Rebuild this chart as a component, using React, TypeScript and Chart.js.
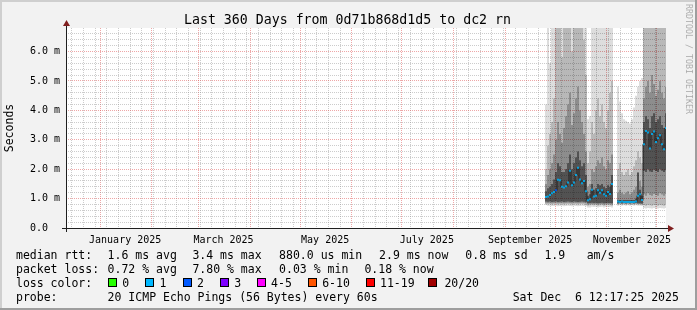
import React, { useEffect, useRef } from "react";
import { Chart, registerables } from "chart.js";
Chart.register(...registerables);

const MONO = '"DejaVu Sans Mono", monospace';

const TITLE = "Last 360 Days from 0d71b868d1d5 to dc2 rn";
const WATERMARK = "RRDTOOL / TOBI OETIKER";
const Y_TITLE = "Seconds";

// x axis: days since graph start (Wed 11 Dec 2024 12:17:25) to end (Sat 6 Dec 2025)
const X_MIN = 0;
const X_MAX = 360;
const Y_MIN = 0;
const Y_MAX = 6.8;

// first day of each month (major grid), days since start
const MONTH_STARTS = [20.49, 51.49, 79.49, 110.49, 140.49, 171.49, 201.49, 232.49, 263.49, 293.49, 324.49, 354.49];
// first Sunday (minor weekly grid)
const FIRST_WEEK = 3.49;
const MONTH_LABELS = ["January 2025", "March 2025", "May 2025", "July 2025", "September 2025", "November 2025"];
const MONTH_LABEL_POS = [35.49, 94.49, 155.49, 216.49, 278.49, 339.49];
const Y_LABELS = ["0.0  ", "1.0 m", "2.0 m", "3.0 m", "4.0 m", "5.0 m", "6.0 m"];

// sample columns (days since start)
const DAYS = [
  288.0, 289.2, 290.4, 291.6, 292.8, 294.0, 295.2, 296.4, 297.6, 298.8, 300.0, 301.2, 302.4, 303.6, 304.8, 306.0,
  307.2, 308.4, 309.6, 310.8, 312.0, 313.2, 314.4, 315.6, 316.8, 318.0, 319.2, 320.4, 321.6, 322.8, 324.0, 325.2,
  326.4, 327.6, 328.8, 330.0, 331.2, 332.4, 333.6, 334.8, 336.0, 337.2, 338.4, 339.6, 340.8, 342.0, 343.2, 344.4,
  345.6, 346.8, 348.0, 349.2, 350.4, 351.6, 352.8, 354.0, 355.2, 356.4, 357.6, 358.8, 360.0,
];

// median rtt (ms)
const MEDIAN = [
  1.05, 1.07, 1.12, 1.18, 1.22, 1.28, 1.64, 1.62, 1.40, 1.38, 1.42, 1.55, 1.95, 1.45, 1.55, 1.80, 2.05, 1.65, 1.52, 1.60, 1.25,
  0.94, 0.98, 1.30, 1.07, 1.10, 1.28, 1.20, 1.28, 1.15, 1.10, 1.22, 1.16, 1.50,
  null, null,
  0.90, 0.88, 0.90, 0.88, 0.88, 0.88, 0.88, 0.88, 0.88, 0.90, 1.10, 1.15, 0.95,
  2.85, 3.30, 3.25, 2.70, 3.20, 3.28, 2.92, 3.05, 3.15, 2.85, 2.68, 3.40,
];

// lost pings per column
const LOSS = [
  1, 1, 1, 1, 1, 2, 1, 1, 1, 1, 1, 1, 1, 1, 1, 1, 1, 1, 1, 1, 1,
  1, 1, 1, 1, 1, 1, 1, 1, 1, 1, 1, 1, 1,
  null, null,
  1, 1, 1, 1, 1, 1, 1, 1, 1, 1, 1, 1, 1,
  1, 1, 1, 1, 1, 1, 1, 1, 1, 1, 1, 1,
];

// smoke: outer band (min .. max of pings)
const SMOKE_LO = [
  0.78, 0.76, 0.76, 0.75, 0.75, 0.76, 0.74, 0.75, 0.76, 0.74, 0.75, 0.76, 0.75, 0.74, 0.76, 0.75, 0.74, 0.75, 0.76, 0.75, 0.74,
  0.70, 0.70, 0.72, 0.71, 0.72, 0.70, 0.71, 0.72, 0.70, 0.71, 0.72, 0.71, 0.70,
  null, null,
  0.76, 0.77, 0.76, 0.77, 0.76, 0.77, 0.76, 0.77, 0.76, 0.77, 0.76, 0.76, 0.75,
  0.68, 0.66, 0.68, 0.67, 0.66, 0.68, 0.67, 0.66, 0.68, 0.67, 0.66, 0.68,
];
const SMOKE_HI = [
  4.2, 6.8, 5.6, 6.8, 6.8, 6.8, 6.8, 6.8, 6.8, 6.8, 6.8, 6.8, 6.8, 6.8, 6.8, 6.8, 6.8, 6.8, 6.8, 6.8, 6.8,
  3.7, 3.8, 6.8, 6.8, 6.8, 6.8, 6.8, 6.8, 6.8, 6.8, 6.8, 6.8, 6.8,
  null, null,
  4.8, 4.3, 3.9, 3.7, 3.65, 3.6, 3.55, 3.7, 4.1, 4.5, 4.8, 5.0, 5.1,
  6.8, 6.8, 6.8, 6.8, 6.8, 6.8, 6.8, 6.8, 6.8, 6.8, 6.8, 6.8,
];
const BAND1_LO = [
  0.82, 0.81, 0.82, 0.80, 0.81, 0.82, 0.80, 0.81, 0.82, 0.80, 0.81, 0.82, 0.81, 0.80, 0.82, 0.81, 0.80, 0.81, 0.82, 0.81, 0.80,
  0.76, 0.77, 0.78, 0.77, 0.78, 0.76, 0.77, 0.78, 0.76, 0.77, 0.78, 0.77, 0.76,
  null, null,
  0.80, 0.81, 0.80, 0.81, 0.80, 0.81, 0.80, 0.81, 0.80, 0.81, 0.80, 0.80, 0.79,
  0.78, 0.76, 0.78, 0.77, 0.76, 0.78, 0.77, 0.76, 0.78, 0.77, 0.76, 0.78,
];
const BAND1_HI = [
  2.0, 2.8, 3.2, 3.6, 4.4, 6.8, 6.8, 6.8, 5.8, 6.8, 6.8, 6.8, 6.8, 6.0, 6.8, 6.8, 6.8, 6.8, 6.8, 6.4, 5.2,
  2.2, 2.6, 3.6, 3.2, 4.0, 4.4, 3.8, 4.2, 3.6, 3.4, 4.0, 4.6, 5.0,
  null, null,
  2.0, 2.2, 1.9, 1.8, 1.9, 2.0, 1.8, 1.9, 2.1, 2.3, 2.6, 2.4, 2.2,
  6.8, 6.8, 6.8, 6.8, 6.8, 6.8, 6.8, 6.8, 6.8, 6.8, 6.8, 6.8,
];
const BAND2_LO = [
  0.86, 0.85, 0.86, 0.84, 0.85, 0.86, 0.84, 0.85, 0.86, 0.84, 0.85, 0.86, 0.85, 0.84, 0.86, 0.85, 0.84, 0.85, 0.86, 0.85, 0.84,
  0.80, 0.81, 0.82, 0.81, 0.82, 0.80, 0.81, 0.82, 0.80, 0.81, 0.82, 0.81, 0.80,
  null, null,
  0.82, 0.83, 0.82, 0.83, 0.82, 0.83, 0.82, 0.83, 0.82, 0.83, 0.82, 0.82, 0.81,
  1.15, 1.10, 1.18, 1.12, 1.10, 1.16, 1.12, 1.10, 1.18, 1.14, 1.10, 1.16,
];
const BAND2_HI = [
  1.5, 1.8, 2.0, 2.2, 2.5, 3.0, 3.6, 3.2, 2.9, 3.4, 3.8, 4.2, 4.6, 3.5, 3.9, 4.4, 4.8, 4.0, 3.6, 3.2, 2.6,
  1.4, 1.5, 2.0, 1.9, 2.1, 2.3, 2.2, 2.4, 2.1, 2.0, 2.3, 2.2, 2.5,
  null, null,
  1.2, 1.3, 1.2, 1.15, 1.2, 1.25, 1.15, 1.2, 1.3, 1.4, 1.9, 1.6, 1.4,
  4.4, 4.8, 5.0, 4.6, 5.2, 4.9, 4.5, 4.7, 5.0, 4.6, 4.4, 4.8,
];
const BAND3_LO = [
  0.90, 0.89, 0.90, 0.88, 0.89, 0.90, 0.88, 0.89, 0.90, 0.88, 0.89, 0.90, 0.89, 0.88, 0.90, 0.89, 0.88, 0.89, 0.90, 0.89, 0.88,
  0.84, 0.85, 0.86, 0.85, 0.86, 0.84, 0.85, 0.86, 0.84, 0.85, 0.86, 0.85, 0.84,
  null, null,
  0.84, 0.85, 0.84, 0.85, 0.84, 0.85, 0.84, 0.85, 0.84, 0.85, 0.84, 0.84, 0.83,
  1.95, 1.90, 2.00, 1.92, 1.90, 1.98, 1.94, 1.90, 2.00, 1.95, 1.90, 1.96,
];
const BAND3_HI = [
  1.25, 1.35, 1.4, 1.5, 1.65, 1.9, 2.2, 2.1, 1.9, 1.9, 2.0, 2.2, 2.5, 2.0, 2.2, 2.4, 2.6, 2.3, 2.1, 2.2, 1.8,
  1.1, 1.15, 1.5, 1.3, 1.35, 1.5, 1.45, 1.5, 1.4, 1.35, 1.45, 1.4, 1.8,
  null, null,
  0.95, 0.95, 0.95, 0.95, 0.95, 0.95, 0.95, 0.95, 0.95, 1.0, 1.88, 1.3, 1.1,
  3.6, 3.8, 3.7, 3.4, 3.8, 3.9, 3.6, 3.7, 3.8, 3.5, 3.4, 3.9,
];

const LOSS_LABELS = ["0", "1", "2", "3", "4-5", "6-10", "11-19", "20/20"];
const LOSS_COLORS = ["#26ff00", "#00b8ff", "#0059ff", "#7e00ff", "#ff00ff", "#ff5500", "#ff0000", "#a10000"];
const LOSS_LIMITS = [0, 1, 2, 3, 5, 10, 19, 20];

const STATS_RTT = [
  ["1.6 ms avg", 107.6],
  ["3.4 ms max", 192.4],
  ["880.0 us min", 279.1],
  ["2.9 ms now", 379.1],
  ["0.8 ms sd", 465.3],
  ["1.9", 544.4],
  ["am/s", 586.7],
];
const STATS_LOSS = [
  ["0.72 % avg", 107.6],
  ["7.80 % max", 192.4],
  ["0.03 % min", 279.1],
  ["0.18 % now", 364.4],
];
const PROBE = "20 ICMP Echo Pings (56 Bytes) every 60s";
const STAMP = "Sat Dec  6 12:17:25 2025";

const GRID_MINOR = "rgba(143,143,143,0.45)";
const GRID_MAJOR = "rgba(222,79,79,0.5)";

function lossColor(l: number | null): string {
  if (l == null) return "rgba(0,0,0,0)";
  for (let k = 0; k < LOSS_LIMITS.length; k++) if (l <= LOSS_LIMITS[k]) return LOSS_COLORS[k];
  return LOSS_COLORS[LOSS_COLORS.length - 1];
}

function band(lo: (number | null)[], hi: (number | null)[]) {
  const out: { x: number; y: [number, number] }[] = [];
  DAYS.forEach((d, i) => {
    const a = lo[i];
    const b = hi[i];
    if (a != null && b != null) out.push({ x: d, y: [a, b] });
  });
  return out;
}

const isNear = (a: number, list: number[]) => list.some((v) => Math.abs(v - a) < 1e-6);

const framePlugin = {
  id: "rrdFrame",
  beforeDraw(chart: any) {
    const { ctx, width, height, chartArea: a } = chart;
    ctx.save();
    ctx.fillStyle = "#f2f2f2";
    ctx.fillRect(0, 0, width, height);
    ctx.fillStyle = "#cfcfcf";
    ctx.fillRect(0, 0, width, 2);
    ctx.fillRect(0, 0, 2, height);
    ctx.fillStyle = "#9e9e9e";
    ctx.fillRect(0, height - 2, width, 2);
    ctx.fillRect(width - 2, 0, 2, height);
    ctx.fillStyle = "#ffffff";
    ctx.fillRect(a.left, a.top, a.right - a.left, a.bottom - a.top);
    ctx.restore();
  },
  afterDatasetsDraw(chart: any) {
    const { ctx } = chart;
    const xs = chart.scales.x;
    const ys = chart.scales.y;
    const x0 = Math.round(xs.getPixelForValue(X_MIN));
    const x1 = Math.round(xs.getPixelForValue(X_MAX));
    const y0 = Math.round(ys.getPixelForValue(Y_MIN));
    const y1 = Math.round(ys.getPixelForValue(Y_MAX));
    ctx.save();
    ctx.strokeStyle = "#1f1f1f";
    ctx.lineWidth = 1;
    ctx.beginPath();
    ctx.moveTo(x0 - 4, y0 + 0.5);
    ctx.lineTo(x1 + 4, y0 + 0.5);
    ctx.moveTo(x0 + 0.5, y0 + 4);
    ctx.lineTo(x0 + 0.5, y1 - 4);
    ctx.stroke();
    ctx.fillStyle = "#801f1f";
    ctx.beginPath();
    ctx.moveTo(x1 + 2, y0 - 3);
    ctx.lineTo(x1 + 2, y0 + 4);
    ctx.lineTo(x1 + 8, y0 + 0.5);
    ctx.closePath();
    ctx.fill();
    ctx.beginPath();
    ctx.moveTo(x0 - 3, y1 - 2);
    ctx.lineTo(x0 + 4, y1 - 2);
    ctx.lineTo(x0 + 0.5, y1 - 8);
    ctx.closePath();
    ctx.fill();
    ctx.restore();
  },
};

function ChartCanvas() {
  const ref = useRef<HTMLCanvasElement | null>(null);
  useEffect(() => {
    if (!ref.current) return;
    const weekLines: number[] = [];
    for (let d = FIRST_WEEK; d < X_MAX; d += 7) weekLines.push(Math.round(d * 100) / 100);
    const xGrid = Array.from(new Set([...weekLines, ...MONTH_STARTS])).sort((a, b) => a - b);
    const yGrid: number[] = [];
    for (let k = 0; k < 34; k++) yGrid.push(Math.round(k * 2) / 10);
    const yMajor = Y_LABELS.map((_, i) => i);

    const half = (Y_MAX - Y_MIN) / 200;
    const marks: { x: number; y: [number, number] }[] = [];
    const markColors: string[] = [];
    DAYS.forEach((d, i) => {
      const m = MEDIAN[i];
      if (m != null) {
        marks.push({ x: d, y: [m - half, m + half] });
        markColors.push(lossColor(LOSS[i]));
      }
    });
    const line = DAYS.map((d, i) => ({ x: d, y: MEDIAN[i] }));

    const barCommon = {
      type: "bar" as const,
      xAxisID: "x",
      yAxisID: "y",
      stack: "smoke",
      borderWidth: 0,
      barPercentage: 1,
      categoryPercentage: 1,
      inflateAmount: 0,
    };

    const chart = new Chart(ref.current, {
      type: "bar",
      data: {
        datasets: [
          { ...barCommon, label: "median", data: marks as any, backgroundColor: markColors },
          {
            type: "line",
            label: "median line",
            xAxisID: "x",
            yAxisID: "y",
            data: line as any,
            stepped: "middle",
            borderColor: "rgba(25,25,25,0.85)",
            borderWidth: 1,
            pointRadius: 0,
            spanGaps: false,
          } as any,
          { ...barCommon, label: "smoke 3", data: band(BAND3_LO, BAND3_HI) as any, backgroundColor: "rgba(0,0,0,0.5)" },
          { ...barCommon, label: "smoke 2", data: band(BAND2_LO, BAND2_HI) as any, backgroundColor: "rgba(0,0,0,0.28)" },
          { ...barCommon, label: "smoke 1", data: band(BAND1_LO, BAND1_HI) as any, backgroundColor: "rgba(0,0,0,0.2)" },
          { ...barCommon, label: "smoke 0", data: band(SMOKE_LO, SMOKE_HI) as any, backgroundColor: "rgba(0,0,0,0.16)" },
        ] as any,
      },
      options: {
        responsive: false,
        animation: false,
        devicePixelRatio: 1,
        layout: { padding: { top: 28, left: 0, right: 31, bottom: 62 } },
        plugins: { legend: { display: false }, tooltip: { enabled: false }, title: { display: false } },
        scales: {
          x: {
            type: "linear",
            position: "bottom",
            min: X_MIN,
            max: X_MAX,
            offset: false,
            afterBuildTicks: (s: any) => {
              s.ticks = xGrid.map((v) => ({ value: v }));
            },
            afterFit: (s: any) => {
              s.height = 0;
            },
            ticks: { display: false },
            grid: {
              offset: false,
              drawTicks: false,
              lineWidth: 1,
              color: (c: any) => (c.tick && isNear(c.tick.value, MONTH_STARTS) ? GRID_MAJOR : GRID_MINOR),
            },
            border: { display: false, dash: [1, 1] },
          },
          x2: {
            type: "linear",
            position: "bottom",
            min: X_MIN,
            max: X_MAX,
            offset: false,
            afterBuildTicks: (s: any) => {
              s.ticks = MONTH_LABEL_POS.map((v) => ({ value: v }));
            },
            afterFit: (s: any) => {
              s.height = 20;
            },
            grid: { display: false },
            border: { display: false },
            ticks: {
              autoSkip: false,
              minRotation: 0,
              maxRotation: 0,
              padding: -2,
              color: "#000",
              font: { family: MONO, size: 10 },
              callback: (_v: any, i: number) => MONTH_LABELS[i],
            },
          },
          y: {
            type: "linear",
            min: Y_MIN,
            max: Y_MAX,
            stacked: false,
            afterBuildTicks: (s: any) => {
              s.ticks = yGrid.map((v) => ({ value: v }));
            },
            afterFit: (s: any) => {
              s.width = 66;
            },
            ticks: {
              autoSkip: false,
              padding: 6,
              color: "#000",
              font: { family: MONO, size: 10 },
              callback: (v: any) => {
                const n = Number(v);
                const r = Math.round(n);
                return Math.abs(n - r) < 1e-6 && r < Y_LABELS.length ? Y_LABELS[r] : "";
              },
            },
            grid: {
              drawTicks: false,
              lineWidth: 1,
              color: (c: any) => (c.tick && isNear(c.tick.value, yMajor) ? GRID_MAJOR : GRID_MINOR),
            },
            border: { display: false, dash: [1, 1] },
            title: {
              display: true,
              text: Y_TITLE,
              color: "#000",
              font: { family: MONO, size: 11.5 },
              padding: { top: 3, bottom: 0 },
            },
          },
        },
      } as any,
      plugins: [framePlugin as any],
    });
    return () => chart.destroy();
  }, []);
  return <canvas ref={ref} width={697} height={310} style={{ display: "block", width: 697, height: 310 }} />;
}

const textBase: React.CSSProperties = {
  position: "absolute",
  fontFamily: MONO,
  fontSize: "11.5px",
  lineHeight: "14px",
  whiteSpace: "pre",
  color: "#000",
};

function T({ x, y, children }: { x: number; y: number; children: React.ReactNode }) {
  return <div style={{ ...textBase, left: x, top: y - 7 }}>{children}</div>;
}

const BOX_X = [108, 145.3, 182.7, 219.6, 256.9, 308, 365.8, 428.4];
const BOX_LABEL_X = [122.2, 159.6, 196.9, 234.2, 271.1, 322.2, 380, 444.4];

export default function App() {
  return (
    <div style={{ position: "absolute", left: 0, top: 0, width: 697, height: 310, overflow: "hidden", background: "#f2f2f2" }}>
      <ChartCanvas />
      <div
        style={{
          position: "absolute",
          left: 0,
          top: 11.5,
          width: 695,
          textAlign: "center",
          fontFamily: MONO,
          fontSize: "13.25px",
          lineHeight: "16px",
          color: "#000",
          whiteSpace: "pre",
        }}
      >
        {TITLE}
      </div>
      <div
        style={{
          position: "absolute",
          left: 694,
          top: 4,
          transform: "rotate(90deg)",
          transformOrigin: "0 0",
          fontFamily: MONO,
          fontSize: "8.3px",
          lineHeight: "10px",
          color: "rgba(0,0,0,0.3)",
          whiteSpace: "pre",
        }}
      >
        {WATERMARK}
      </div>
      <T x={16} y={254.5}>median rtt:</T>
      {STATS_RTT.map(([s, x]) => (
        <T key={s as string} x={x as number} y={254.5}>
          {s}
        </T>
      ))}
      <T x={16} y={268.5}>packet loss:</T>
      {STATS_LOSS.map(([s, x]) => (
        <T key={s as string} x={x as number} y={268.5}>
          {s}
        </T>
      ))}
      <T x={16} y={282.5}>loss color:</T>
      {LOSS_LABELS.map((l, i) => (
        <React.Fragment key={l}>
          <div
            style={{
              position: "absolute",
              left: Math.round(BOX_X[i]),
              top: 278,
              width: 7,
              height: 7,
              background: LOSS_COLORS[i],
              border: "1px solid #000",
            }}
          />
          <T x={BOX_LABEL_X[i]} y={282.5}>
            {l}
          </T>
        </React.Fragment>
      ))}
      <T x={16} y={296.5}>probe:</T>
      <T x={107.6} y={296.5}>
        {PROBE}
      </T>
      <T x={512.7} y={296.5}>
        {STAMP}
      </T>
    </div>
  );
}
